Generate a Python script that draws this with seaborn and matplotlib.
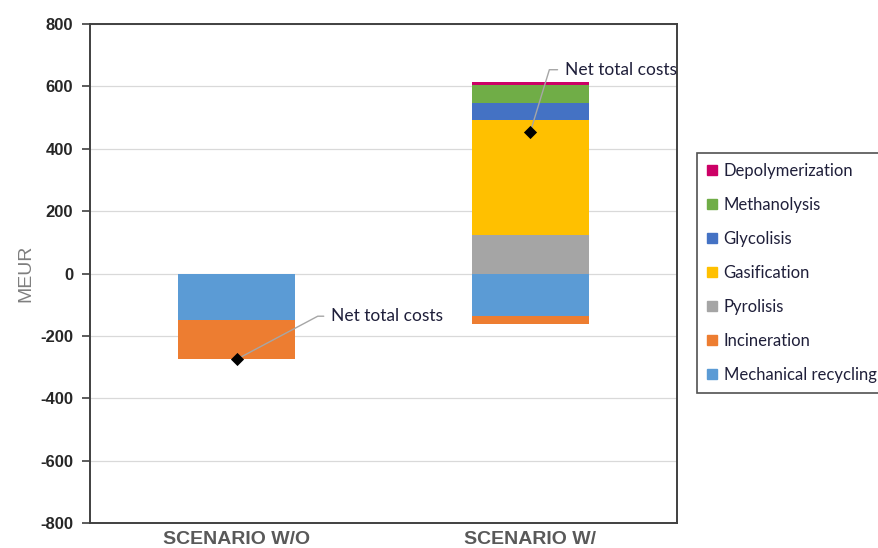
import matplotlib
matplotlib.use("Agg")
import matplotlib.pyplot as plt
import matplotlib.patches as mpatches
import seaborn as sns
import pandas as pd
import numpy as np

scenarios = ["SCENARIO W/O", "SCENARIO W/"]
techs = ["Mechanical recycling", "Incineration", "Pyrolisis", "Gasification",
         "Glycolisis", "Methanolysis", "Depolymerization"]
colors = ["#5B9BD5", "#ED7D31", "#A5A5A5", "#FFC000", "#4472C4", "#70AD47", "#CC0066"]

# MEUR per technology, per scenario
mech_recycling = [-148, -135]
incineration = [-127, -27]
pyrolisis = [0, 124]
gasification = [0, 367]
glycolisis = [0, 57]
methanolysis = [0, 58]
depolymerization = [0, 9]

values = [mech_recycling, incineration, pyrolisis, gasification,
          glycolisis, methanolysis, depolymerization]

sns.set_style("white")
plt.rcParams["font.family"] = ["Liberation Sans", "DejaVu Sans"]
plt.rcParams["axes.unicode_minus"] = False

fig = plt.figure(figsize=(8.79, 5.48), dpi=100)
ax = fig.add_axes([90 / 879, 1 - 523 / 548, (677 - 90) / 879, (523 - 24) / 548])

# cumulative stack tops, negatives and positives stacked separately
rows = []
pos_sum = np.zeros(2)
neg_sum = np.zeros(2)
for t, v in zip(techs, values):
    v = np.array(v, dtype=float)
    for i, s in enumerate(scenarios):
        if v[i] >= 0:
            pos_sum[i] += v[i]
            rows.append((s, t, pos_sum[i], v[i]))
        else:
            neg_sum[i] += v[i]
            rows.append((s, t, neg_sum[i], v[i]))
df = pd.DataFrame(rows, columns=["scenario", "tech", "top", "value"])

# draw outermost layers first so inner ones sit on top
for t, c in list(zip(techs, colors))[::-1]:
    sub = df[(df.tech == t) & (df.value != 0)]
    if len(sub) == 0:
        continue
    sns.barplot(data=sub, x="scenario", y="top", order=scenarios, color=c,
                width=0.4, saturation=1, ax=ax, errorbar=None, linewidth=0)

net = [sum(v[i] for v in values) for i in range(2)]
net_df = pd.DataFrame({"scenario": scenarios, "net": net})
sns.scatterplot(data=net_df, x="scenario", y="net", marker="D", color="black",
                s=45, ax=ax, zorder=5, linewidth=0)

ax.set_xlim(-0.5, 1.5)
ax.set_ylim(-800, 800)
ax.set_yticks(range(-800, 801, 200))
ax.yaxis.grid(True, color="#D9D9D9", linewidth=0.9)
ax.set_axisbelow(True)
for sp in ax.spines.values():
    sp.set_visible(True)
    sp.set_color("#404040")
    sp.set_linewidth(1.4)
ax.tick_params(axis="y", which="both", left=True, length=6, width=1.2,
               color="#404040", labelsize=12, labelcolor="#262626", pad=6)
ax.tick_params(axis="x", bottom=False, labelsize=14, labelcolor="#595959", pad=2)
for lab in ax.get_yticklabels():
    lab.set_fontweight("bold")
for lab in ax.get_xticklabels():
    lab.set_fontweight("bold")
ax.set_xlabel("")
ax.set_ylabel("MEUR", fontsize=14, color="#7F7F7F", labelpad=4)

# leader-line labels for net totals
offsets = [(68, 31), (25, 45)]
angles = [28, 73]
for i, s in enumerate(scenarios):
    ax.annotate("Net total costs", xy=(i, net[i]), xytext=offsets[i],
                textcoords="offset points", ha="left", va="center",
                fontsize=12.5, color="#1F1F3A", family=["Lato", "DejaVu Sans"],
                arrowprops=dict(arrowstyle="-", color="#A6A6A6", lw=1,
                                relpos=(0, 0.5), shrinkA=3, shrinkB=2,
                                connectionstyle=f"angle,angleA=0,angleB={angles[i]},rad=0"))

handles = [mpatches.Patch(color=c, label=t) for t, c in zip(techs, colors)][::-1]
leg = fig.legend(handles=handles, loc="upper left", bbox_to_anchor=(697 / 879, 1 - 153 / 548),
                 prop={"family": ["Lato", "DejaVu Sans"], "size": 12},
                 handlelength=0.6, handleheight=0.6, handletextpad=0.4,
                 labelspacing=1.08, borderpad=0.6, frameon=True, fancybox=False,
                 borderaxespad=0)
leg.get_frame().set_edgecolor("#262626")
leg.get_frame().set_linewidth(1.2)
for txt in leg.get_texts():
    txt.set_color("#1F1F3A")

fig.savefig("out.png", dpi=100)
